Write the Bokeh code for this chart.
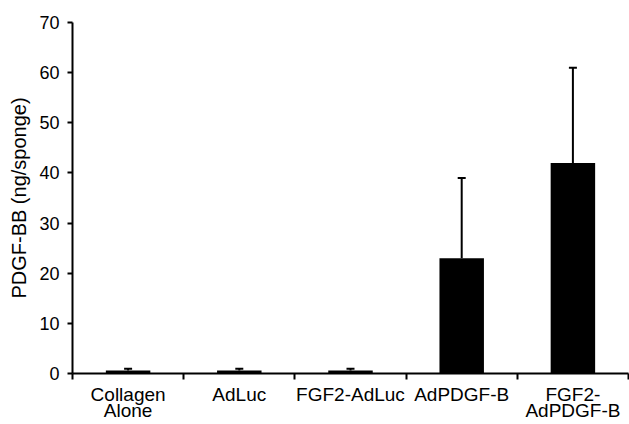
from bokeh.plotting import figure
from bokeh.models import Range1d, FixedTicker, Whisker, TeeHead, ColumnDataSource
from bokeh.embed import file_html
from bokeh.resources import INLINE

categories = ["Collagen\nAlone", "AdLuc", "FGF2-AdLuc", "AdPDGF-B", "FGF2-\nAdPDGF-B"]
means = [0.6, 0.6, 0.6, 23, 42]
errors = [0.35, 0.35, 0.35, 16, 19]
y_ticks = [0, 10, 20, 30, 40, 50, 60, 70]

n = len(categories)
centers = [i + 0.5 for i in range(n)]
bounds = list(range(n + 1))
uppers = [m + e for m, e in zip(means, errors)]

src = ColumnDataSource(dict(x=centers, top=means, upper=uppers, lower=means))

FONT = "Liberation Sans"

p = figure(width=629, height=424, output_backend="svg", toolbar_location=None,
           x_range=Range1d(0, n), y_range=Range1d(0, 70),
           min_border_left=72, min_border_right=1, min_border_top=22, min_border_bottom=48)
p.outline_line_color = None
p.grid.visible = False

p.vbar(x="x", top="top", width=0.4, source=src, fill_color="black", line_color=None)
wh = Whisker(base="x", upper="upper", lower="lower", source=src,
             line_color="black", line_width=2,
             upper_head=TeeHead(size=8, line_color="black", line_width=2),
             lower_head=None)
p.add_layout(wh)

xa = p.xaxis[0]
xa.ticker = FixedTicker(ticks=centers, minor_ticks=bounds)
xa.major_label_overrides = {c: lab for c, lab in zip(centers, categories)}
xa.major_tick_out = 0
xa.major_tick_in = 0
xa.minor_tick_out = 6
xa.minor_tick_in = 0
xa.minor_tick_line_color = "black"
xa.minor_tick_line_width = 2
xa.axis_line_width = 2
xa.axis_line_color = "black"
xa.major_label_text_font = FONT
xa.major_label_text_font_size = "19px"
xa.major_label_text_line_height = 0.8
xa.major_label_text_color = "black"
xa.major_label_standoff = 4

ya = p.yaxis[0]
ya.ticker = FixedTicker(ticks=y_ticks)
ya.major_tick_out = 5
ya.major_tick_in = 0
ya.major_tick_line_width = 2
ya.minor_tick_line_color = None
ya.axis_line_width = 2
ya.axis_line_color = "black"
ya.major_label_text_font = FONT
ya.major_label_text_font_size = "18px"
ya.major_label_text_color = "black"
ya.major_label_standoff = 8
ya.axis_label = "PDGF-BB (ng/sponge)"
ya.axis_label_text_font = FONT
ya.axis_label_text_font_size = "20px"
ya.axis_label_text_font_style = "normal"
ya.axis_label_text_color = "black"
ya.axis_label_standoff = 6

open("out.html", "w").write(file_html(p, INLINE))
